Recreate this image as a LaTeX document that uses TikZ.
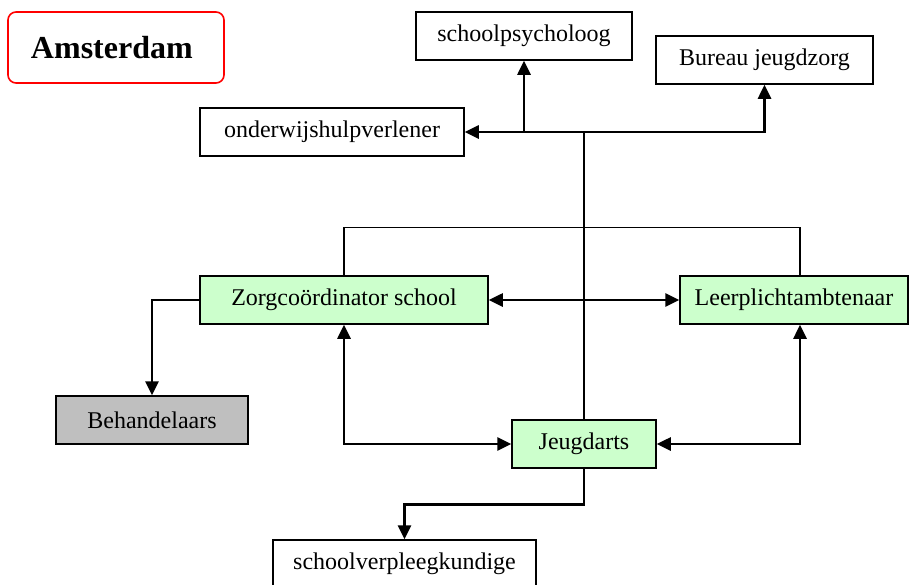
\documentclass[tikz,border=0pt]{standalone}
\usepackage{fontspec}
\setmainfont{Liberation Serif}
\usetikzlibrary{arrows.meta}
\tikzstyle{box}=[rectangle,draw,line width=0.75pt,fill=white,minimum height=24pt,inner sep=0pt]
\tikzstyle{greenbox}=[box,fill=green!20]
\tikzstyle{conn}=[draw,line width=1.3pt]
\tikzstyle{tip}=[-{Triangle[length=7pt,width=6.5pt]}]
\tikzstyle{tips}=[{Triangle[length=7pt,width=6.5pt]}-{Triangle[length=7pt,width=6.5pt]}]
\tikzstyle{link}=[draw,line width=0.7pt]

\begin{document}
\begin{tikzpicture}[x=0.5pt,y=-0.5pt,font=\fontsize{12pt}{14pt}\selectfont]
\useasboundingbox (0,0) rectangle (909,584);
\clip (0,0) rectangle (909,584);
% nodes
\node[draw=red,line width=0.8pt,rounded corners=4pt,minimum height=35.5pt,inner xsep=11.5pt,text width=85pt,align=left,font=\fontsize{16pt}{19pt}\selectfont\bfseries] (amst) at (116,47.5) {Amsterdam};
\node[box,minimum width=108pt] (psy) at (524,36) {schoolpsycholoog};
\node[box,minimum width=108.5pt] (bureau) at (764.5,60) {Bureau jeugdzorg};
\node[box,minimum width=132pt] (onderwijs) at (332,132) {onderwijshulpverlener};
\node[greenbox,minimum width=144pt] (zorg) at (344,300) {Zorgcoördinator school};
\node[greenbox,minimum width=114pt] (leer) at (794,300) {Leerplichtambtenaar};
\node[box,fill=black!25,minimum width=96pt] (behand) at (152,420) {Behandelaars};
\node[greenbox,minimum width=72pt] (jeugd) at (584,444) {Jeugdarts};
\node[box,minimum width=131.5pt] (verpl) at (404.5,564) {schoolverpleegkundige};
\coordinate (top) at (584,132);
% connectors
\draw[link] (zorg.north) |- ([xshift=3pt,yshift=24pt]leer.north) -- ([xshift=3pt]leer.north);
\draw[conn] (jeugd.north) -- (top);
\draw[conn] (top) -- (top -| psy.south);
\draw[conn,tip] (top) -- (onderwijs.east);
\draw[conn,tip] (top -| psy.south) -- (psy.south);
\draw[conn,tip] (top) -| (bureau.south);
\draw[conn,tips] (zorg.east) -- (leer.west);
\draw[conn,tips] (zorg.south) |- (jeugd.west);
\draw[conn,tips] (jeugd.east) -| ([xshift=3pt]leer.south);
\draw[conn,tip] (zorg.west) -| (behand.north);
\draw[conn,tip] (jeugd.south) -- ++(0,36) -| (verpl.north);
\end{tikzpicture}
\end{document}
